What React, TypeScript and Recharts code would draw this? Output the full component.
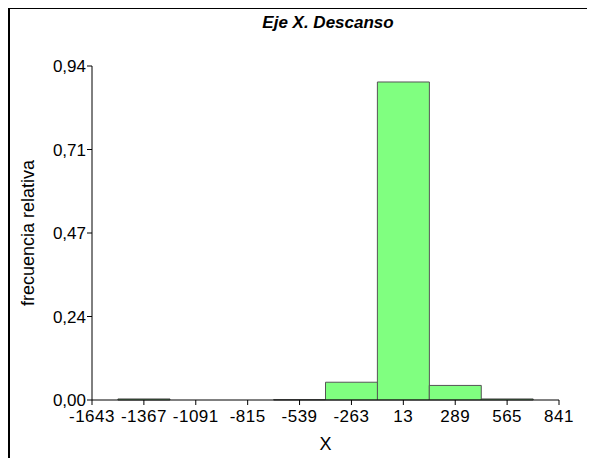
import { ComposedChart, Bar, XAxis, YAxis, Label } from "recharts";

const binCenters = [-1643, -1367, -1091, -815, -539, -263, 13, 289, 565, 841];
const relFreq = [0, 0.003, 0, 0, 0.001, 0.05, 0.895, 0.041, 0.003, 0];
const yTicks = [0, 0.235, 0.47, 0.705, 0.94];
const yTickLabels = ["0,00", "0,24", "0,47", "0,71", "0,94"];

const data = binCenters.map((x, i) => ({ x, f: relFreq[i] }));

const font = "'Liberation Sans', Arial, sans-serif";

export default function App() {
  return (
    <div
      style={{
        position: "relative",
        width: 587,
        height: 451,
        marginTop: -1,
        borderLeft: "2px solid #000",
        borderTop: "2px solid #000",
        boxSizing: "border-box",
        fontFamily: font,
      }}
    >
      <div
        style={{
          position: "absolute",
          left: 0,
          top: 4,
          width: 636,
          textAlign: "center",
          fontSize: 17,
          fontWeight: "bold",
          fontStyle: "italic",
        }}
      >
        Eje X. Descanso
      </div>
      <ComposedChart
        width={585}
        height={449}
        data={data}
        barCategoryGap={0}
        barGap={0}
        margin={{ top: 58, right: 34, bottom: 0, left: 0 }}
        style={{ position: "absolute", left: -2, top: -1, fontFamily: font }}
      >
        <XAxis
          dataKey="x"
          type="number"
          domain={[-1643, 841]}
          ticks={binCenters}
          interval={0}
          height={57}
          tickSize={5}
          tickMargin={5}
          stroke="#000"
          tick={{ fill: "#000", fontSize: 17, letterSpacing: 0.5 }}
        >
          <Label value="X" position="insideBottom" offset={7} fill="#000" fontSize={18} />
        </XAxis>
        <YAxis
          type="number"
          domain={[0, 0.94]}
          ticks={yTicks}
          interval={0}
          width={84}
          tickSize={5}
          tickMargin={1}
          stroke="#000"
          tick={{ fill: "#000", fontSize: 17 }}
          tickFormatter={(v: number) => yTickLabels[yTicks.indexOf(v)] ?? ""}
        >
          <Label
            value="frecuencia relativa"
            angle={-90}
            position="insideLeft"
            offset={20}
            fill="#000"
            fontSize={18}
            style={{ textAnchor: "middle" }}
          />
        </YAxis>
        <Bar
          dataKey="f"
          fill="#80FF80"
          stroke="#555"
          strokeWidth={1}
          isAnimationActive={false}
        />
      </ComposedChart>
    </div>
  );
}
